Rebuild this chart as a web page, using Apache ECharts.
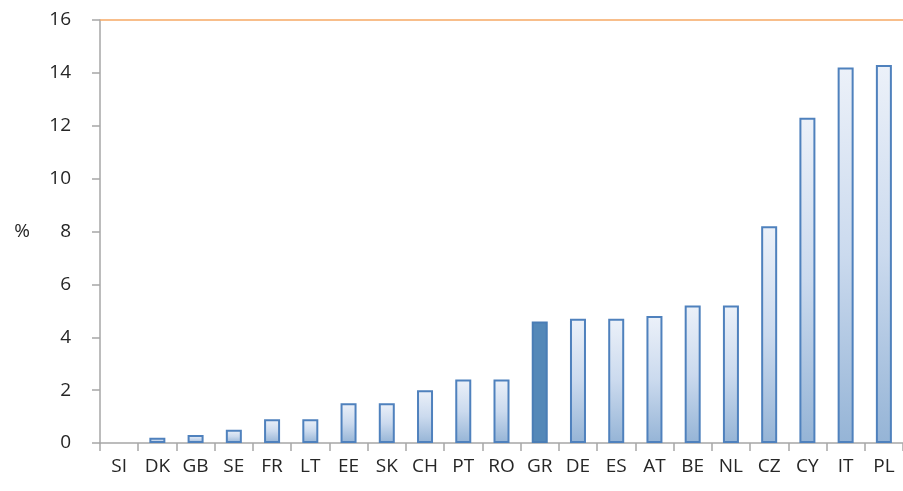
<!DOCTYPE html>
<html>
<head>
<meta charset="utf-8">
<script src="https://cdn.jsdelivr.net/npm/echarts@6/dist/echarts.min.js"></script>
<style>
  html, body { margin: 0; padding: 0; background: #fff; }
  #chart { width: 903px; height: 491px; }
</style>
</head>
<body>
<div id="chart"></div>
<script>
// Country codes along the category axis
const countries = ['SI', 'DK', 'GB', 'SE', 'FR', 'LT', 'EE', 'SK', 'CH', 'PT', 'RO',
                   'GR', 'DE', 'ES', 'AT', 'BE', 'NL', 'CZ', 'CY', 'IT', 'PL'];
// Share in percent for each country
const shares = [0, 0.2, 0.3, 0.5, 0.9, 0.9, 1.5, 1.5, 2.0, 2.4, 2.4,
                4.6, 4.7, 4.7, 4.8, 5.2, 5.2, 8.2, 12.3, 14.2, 14.3];
// Country drawn in solid colour
const highlighted = 'GR';
// Value axis ticks
const yTicks = [0, 2, 4, 6, 8, 10, 12, 14, 16];

const fontFamily = '"Open Sans", Lato, sans-serif';

const gradientFill = new echarts.graphic.LinearGradient(0, 0, 0, 1, [
  { offset: 0, color: '#ecf1f9' },
  { offset: 0.5, color: '#cbdaee' },
  { offset: 1, color: '#95b4d6' }
]);

const barData = shares.map((v, i) => {
  let style;
  if (countries[i] === highlighted) {
    style = { color: '#5488b8', borderColor: '#4a7db5', borderWidth: 2 };
  } else {
    style = { color: gradientFill, borderColor: '#4f81bd', borderWidth: v === 0 ? 0 : 2 };
  }
  return { value: v, itemStyle: style };
});

const chart = echarts.init(document.getElementById('chart'), null, { renderer: 'canvas' });
chart.setOption({
  animation: false,
  backgroundColor: '#ffffff',
  grid: { left: 100, right: -1, top: 20, bottom: 48, containLabel: false },
  xAxis: {
    type: 'category',
    data: countries,
    axisLine: { lineStyle: { color: '#a6a6a6', width: 1.5 } },
    axisTick: { show: true, length: 8, lineStyle: { color: '#a6a6a6', width: 1.5 } },
    axisLabel: { color: '#262626', fontSize: 19, fontFamily: fontFamily, margin: 14, interval: 0 }
  },
  yAxis: {
    type: 'value',
    min: yTicks[0],
    max: yTicks[yTicks.length - 1],
    interval: yTicks[1] - yTicks[0],
    name: '%',
    nameLocation: 'middle',
    nameRotate: 0,
    nameGap: 70,
    nameTextStyle: { color: '#262626', fontSize: 19, fontFamily: fontFamily },
    axisLine: { show: true, lineStyle: { color: '#a6a6a6', width: 1.5 } },
    axisTick: { show: true, length: 8, lineStyle: { color: '#a6a6a6', width: 1.5 } },
    axisLabel: { color: '#262626', fontSize: 19, fontFamily: fontFamily, margin: 29 },
    splitLine: { show: false }
  },
  series: [{
    type: 'bar',
    data: barData,
    barWidth: 16,
    markLine: {
      silent: true,
      symbol: ['none', 'none'],
      label: { show: false },
      lineStyle: { color: '#f6a864', width: 1.5, type: 'solid' },
      data: [{ yAxis: yTicks[yTicks.length - 1] }]
    }
  }]
});
</script>
</body>
</html>
